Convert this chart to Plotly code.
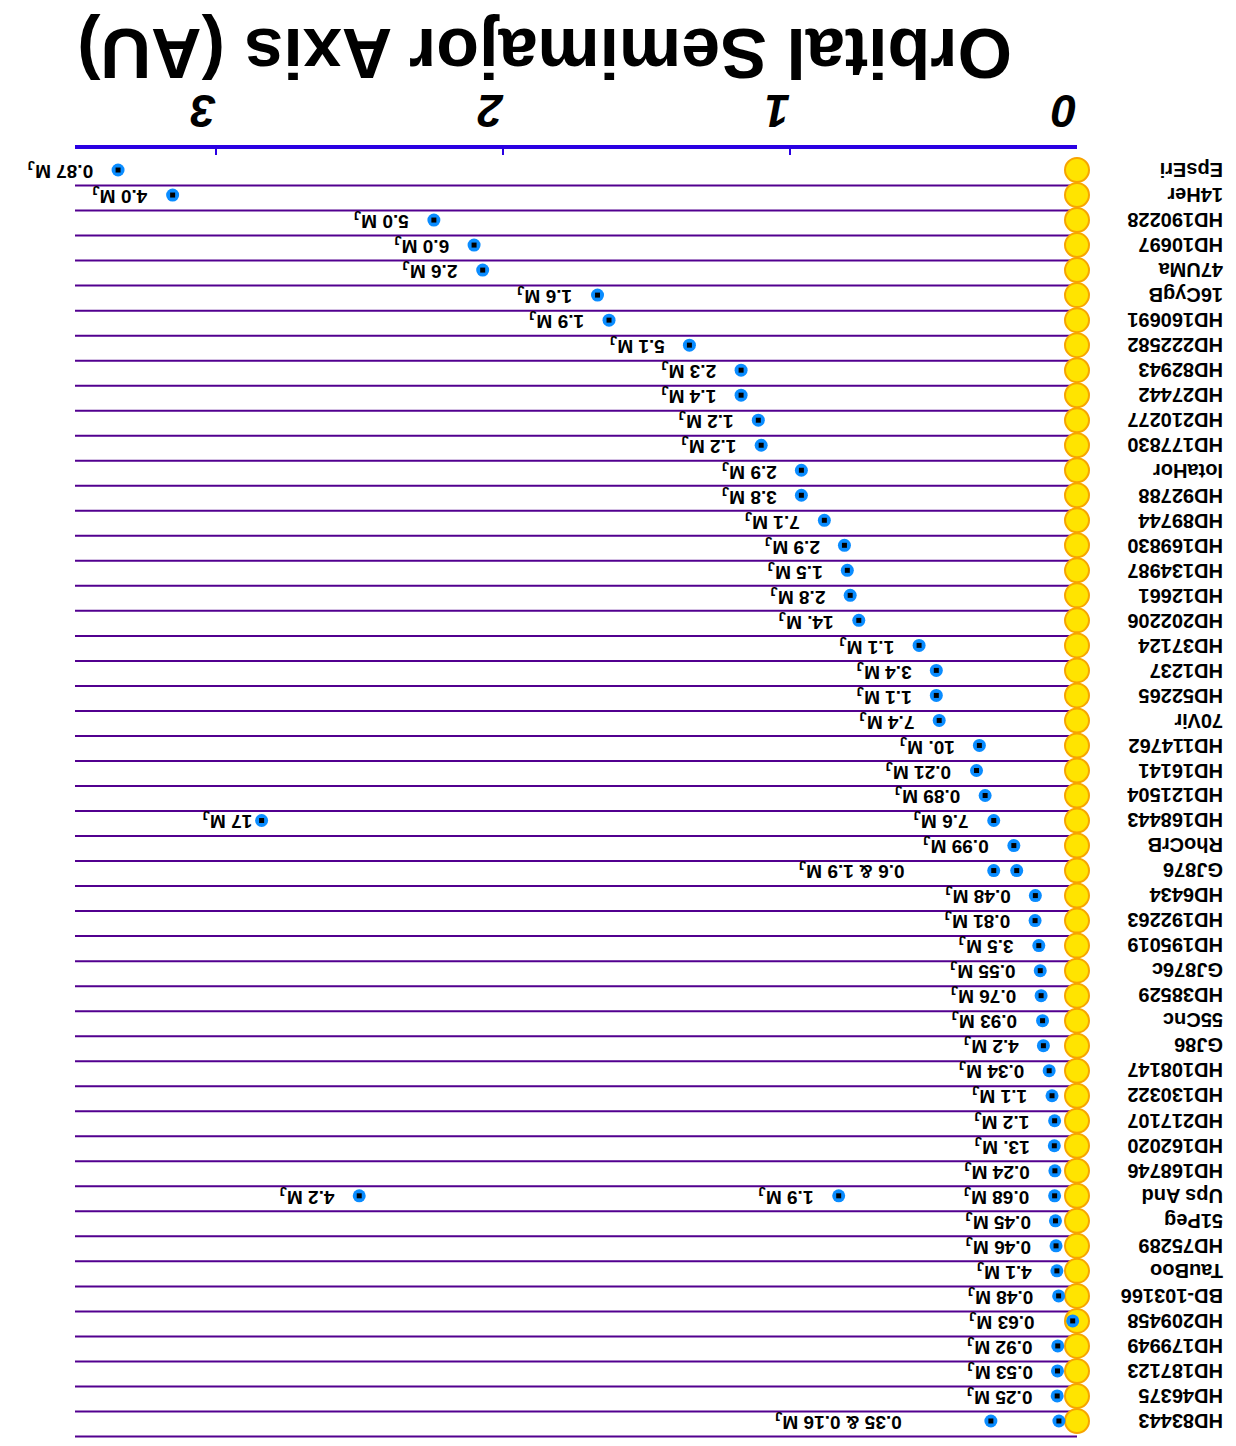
import plotly.graph_objects as go

# ---------------- data ----------------
stars = ["EpsEri", "14Her", "HD190228", "HD10697", "47UMa", "16CygB", "HD160691",
         "HD222582", "HD82943", "HD27442", "HD210277", "HD177830", "IotaHor",
         "HD92788", "HD89744", "HD169830", "HD134987", "HD12661", "HD202206",
         "HD37124", "HD1237", "HD52265", "70Vir", "HD114762", "HD16141",
         "HD121504", "HD168443", "RhoCrB", "GJ876", "HD6434", "HD192263",
         "HD195019", "GJ876c", "HD38529", "55Cnc", "GJ86", "HD108147",
         "HD130322", "HD217107", "HD162020", "HD168746", "Ups And", "51Peg",
         "HD75289", "TauBoo", "BD-103166", "HD209458", "HD179949", "HD187123",
         "HD46375", "HD83443"]

# planets: host row index, semimajor axis (AU), mass label ("" = shown in combined label)
planet_host = [0, 1, 2, 3, 4, 5, 6, 7, 8, 9, 10, 11, 12, 13, 14, 15, 16, 17, 18,
               19, 20, 21, 22, 23, 24, 25, 26, 26, 27, 28, 28, 29, 30, 31, 32,
               33, 34, 35, 36, 37, 38, 39, 40, 41, 41, 41, 42, 43, 44, 45, 46,
               47, 48, 49, 50, 50]
planet_au = [3.34, 3.15, 2.24, 2.10, 2.07, 1.67, 1.63, 1.35, 1.17, 1.17, 1.11,
             1.10, 0.96, 0.96, 0.88, 0.81, 0.80, 0.79, 0.76, 0.55, 0.49, 0.49,
             0.48, 0.34, 0.35, 0.32, 0.29, 2.84, 0.22, 0.29, 0.21, 0.145, 0.146,
             0.133, 0.128, 0.125, 0.12, 0.117, 0.097, 0.087, 0.078, 0.079, 0.077,
             0.078, 0.83, 2.50, 0.075, 0.073, 0.07, 0.064, 0.015, 0.067, 0.068,
             0.069, 0.063, 0.30]
planet_mass = ["0.87", "4.0", "5.0", "6.0", "2.6", "1.6", "1.9", "5.1", "2.3",
               "1.4", "1.2", "1.2", "2.9", "3.8", "7.1", "2.9", "1.5", "2.8",
               "14.", "1.1", "3.4", "1.1", "7.4", "10.", "0.21", "0.89", "7.6",
               "17", "0.99", "", "", "0.48", "0.81", "3.5", "0.55", "0.76",
               "0.93", "4.2", "0.34", "1.1", "1.2", "13.", "0.24", "0.68", "1.9",
               "4.2", "0.45", "0.46", "4.1", "0.48", "0.63", "0.92", "0.53",
               "0.25", "", ""]

# systems whose masses are given in one combined label (host row, outer planet AU, text)
combo_host = [28, 50]
combo_au = [0.29, 0.30]
combo_mass = ["0.6 & 1.9", "0.35 & 0.16"]

axis_ticks = [0, 1, 2, 3]
axis_title = "Orbital Semimajor Axis (AU)"

# ---------------- style ----------------
OFF = 8                      # page (body) margin of the html document
W, H = 1236 - OFF, 1446 - OFF
ML, MR, MT, MB = 75 - OFF, 159, 149 - OFF, 6
XMAX = 3.49
YTOP, YBOT = -0.84, 50.76
FONT = "Liberation Sans"
LINE_PURPLE = "#52008f"
AXIS_BLUE = "#2a00e2"
DOT_BLUE = "#0a8cff"
STAR_FILL = "#ffe400"
STAR_EDGE = "#f7a400"
LABEL_GAP = -24
COMBO_GAP = -88
SHORT_GAP = -8
MIN_LABEL_AU = 0.06

pw = W - ML - MR
ph = H - MT - MB


def px_to_paper(px, py):
    """screen pixel (window coords) -> paper coords"""
    px -= OFF
    py -= OFF
    return (px - ML) / pw, (H - MB - py) / ph


n = len(stars)
rows = list(range(n))

fig = go.Figure()

# stars at a = 0
fig.add_trace(go.Scatter(
    x=[0] * n, y=rows, mode="markers", cliponaxis=False, hoverinfo="skip",
    marker=dict(size=24, color=STAR_FILL, line=dict(color=STAR_EDGE, width=2))))

# planets
fig.add_trace(go.Scatter(
    x=planet_au, y=planet_host, mode="markers", cliponaxis=False,
    marker=dict(size=13, color=DOT_BLUE, line=dict(width=0))))
fig.add_trace(go.Scatter(
    x=planet_au, y=planet_host, mode="markers", cliponaxis=False,
    marker=dict(size=5, symbol="square", color="black", line=dict(width=0))))

shapes = []
for r in rows:
    shapes.append(dict(type="line", xref="paper", x0=0, x1=1, yref="y",
                       y0=r + 0.62, y1=r + 0.62, layer="below",
                       line=dict(color=LINE_PURPLE, width=2)))

annotations = []
lab_font = dict(family=FONT, size=19, color="black", weight="bold")

for host, au, m in zip(planet_host, planet_au, planet_mass):
    if not m:
        continue
    gap = SHORT_GAP if len(m) <= 2 else LABEL_GAP
    annotations.append(dict(
        x=max(au, MIN_LABEL_AU), y=host, xref="x", yref="y",
        text=f"{m} M<sub>J</sub>", showarrow=False, textangle=180,
        xanchor="right", yanchor="middle", xshift=gap, borderpad=0,
        font=lab_font))

for host, au, m in zip(combo_host, combo_au, combo_mass):
    annotations.append(dict(
        x=au, y=host, xref="x", yref="y",
        text=f"{m} M<sub>J</sub>", showarrow=False, textangle=180,
        xanchor="right", yanchor="middle", xshift=COMBO_GAP, borderpad=0,
        font=lab_font))

name_x, _ = px_to_paper(1224, 0)
for r, name in zip(rows, stars):
    annotations.append(dict(
        x=name_x, y=r, xref="paper", yref="y", text=name, showarrow=False,
        textangle=180, xanchor="right", yanchor="middle", borderpad=0,
        font=dict(family=FONT, size=20, color="black", weight="bold")))

tx, ty = px_to_paper(545, 53)
annotations.append(dict(
    x=tx, y=ty, xref="paper", yref="paper", text=axis_title, showarrow=False,
    textangle=180, xanchor="center", yanchor="middle", borderpad=0,
    font=dict(family=FONT, size=70, color="black", weight="bold")))

fig.update_layout(
    width=W, height=H, margin=dict(l=ML, r=MR, t=MT, b=MB, pad=0),
    paper_bgcolor="white", plot_bgcolor="white", showlegend=False,
    shapes=shapes, annotations=annotations,
    xaxis=dict(range=[XMAX, 0], side="top", showgrid=False, zeroline=False,
               showline=True, linecolor=AXIS_BLUE, linewidth=4,
               tickmode="array", tickvals=axis_ticks,
               ticktext=[str(t) for t in axis_ticks],
               ticks="inside", ticklen=6, tickwidth=2, tickcolor=AXIS_BLUE,
               tickangle=180, ticklabelstandoff=-14,
               tickfont=dict(family=FONT, size=46, color="black",
                             weight="bold", style="italic")),
    yaxis=dict(range=[YBOT, YTOP], visible=False, showgrid=False,
               zeroline=False),
)

fig.write_html("out.html")
